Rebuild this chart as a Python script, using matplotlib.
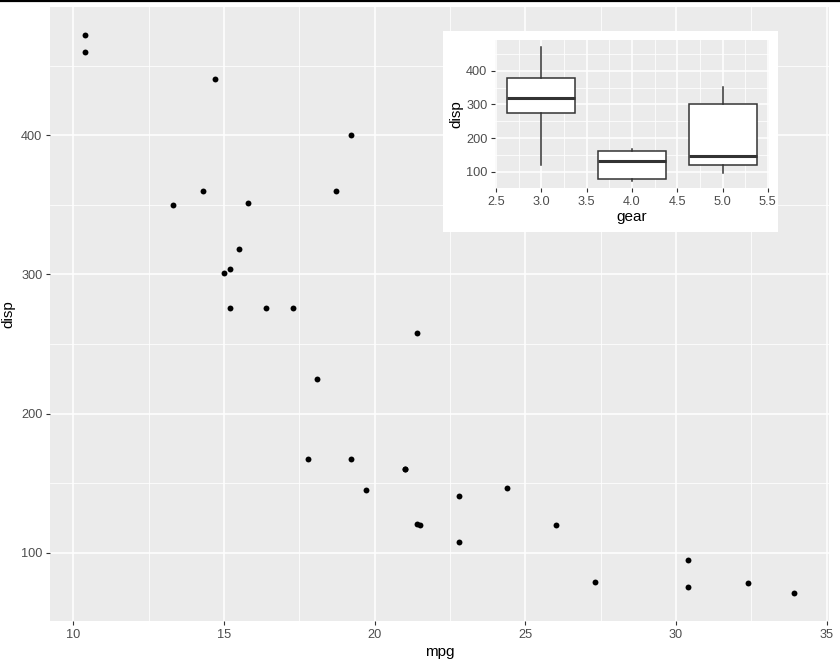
import numpy as np
import matplotlib
matplotlib.use("Agg")
from matplotlib import pyplot as plt
from matplotlib.ticker import MultipleLocator, FormatStrFormatter
from matplotlib.patches import Rectangle
from matplotlib.lines import Line2D

# mtcars: mpg, disp, gear
mpg = [21.0, 21.0, 22.8, 21.4, 18.7, 18.1, 14.3, 24.4, 22.8, 19.2, 17.8,
       16.4, 17.3, 15.2, 10.4, 10.4, 14.7, 32.4, 30.4, 33.9, 21.5, 15.5,
       15.2, 13.3, 19.2, 27.3, 26.0, 30.4, 15.8, 19.7, 15.0, 21.4]
disp = [160, 160, 108, 258, 360, 225, 360, 146.7, 140.8, 167.6, 167.6,
        275.8, 275.8, 275.8, 472, 460, 440, 78.7, 75.7, 71.1, 120.1, 318,
        304, 350, 400, 79, 120.3, 95.1, 351, 145, 301, 121]
gear = [4, 4, 4, 3, 3, 3, 3, 4, 4, 4, 4, 3, 3, 3, 3, 3, 3, 4, 4, 4, 3, 3,
        3, 3, 3, 4, 5, 5, 5, 5, 5, 4]

gear_levels = [3, 4, 5]

plt.rcParams['font.family'] = ['Liberation Sans', 'DejaVu Sans']

PANEL = '#EBEBEB'
TICKTXT = '#4D4D4D'
TICK = '#333333'


def style_gg(ax):
    ax.set_facecolor(PANEL)
    for s in ax.spines.values():
        s.set_visible(False)
    ax.grid(which='major', color='white', linewidth=1.1)
    ax.grid(which='minor', color='white', linewidth=0.55)
    ax.set_axisbelow(True)
    ax.tick_params(which='major', length=3, width=0.8, color=TICK,
                   labelcolor=TICKTXT, labelsize=9.2, pad=2.5)
    ax.tick_params(which='minor', length=0)


fig = plt.figure(figsize=(8.4, 6.65), dpi=100)
W, H = 840, 665


def box(x0, y0, x1, y1):
    # pixel box -> figure fraction rect
    return [x0 / W, 1 - y1 / H, (x1 - x0) / W, (y1 - y0) / H]


# top rule
fig.add_artist(Line2D([0, 1], [1 - 1 / H, 1 - 1 / H], color='black',
                      linewidth=1.6, transform=fig.transFigure))

ax = fig.add_axes(box(50, 7, 829, 621))
style_gg(ax)
ax.scatter(mpg, disp, s=18, color='black', zorder=3, linewidths=0)
ax.set_xlim(9.225, 35.075)
ax.set_ylim(51.05, 492.05)
ax.xaxis.set_major_locator(MultipleLocator(5))
ax.xaxis.set_minor_locator(MultipleLocator(2.5))
ax.yaxis.set_major_locator(MultipleLocator(100))
ax.yaxis.set_minor_locator(MultipleLocator(50))
ax.set_xlabel('mpg', fontsize=11, color='black', labelpad=3)
ax.set_ylabel('disp', fontsize=11, color='black', labelpad=4)

# inset background
fig.add_artist(Rectangle((443 / W, 1 - 232 / H), (778 - 443) / W,
                         (232 - 31) / H, transform=fig.transFigure,
                         facecolor='white', edgecolor='none', zorder=5))

ins = fig.add_axes(box(495, 40, 769, 188), zorder=6)
style_gg(ins)
groups = [[d for d, g in zip(disp, gear) if g == lv] for lv in gear_levels]
ins.boxplot(groups, positions=gear_levels, widths=0.75, showcaps=False,
            showfliers=False, patch_artist=True, manage_ticks=False,
            boxprops=dict(facecolor='white', edgecolor=TICK, linewidth=1.1),
            whiskerprops=dict(color=TICK, linewidth=1.1),
            medianprops=dict(color=TICK, linewidth=2.2), zorder=3)
ins.set_xlim(2.4875, 5.5125)
ins.set_ylim(51.05, 492.05)
ins.xaxis.set_major_locator(MultipleLocator(0.5))
ins.xaxis.set_minor_locator(MultipleLocator(0.25))
ins.yaxis.set_major_locator(MultipleLocator(100))
ins.yaxis.set_minor_locator(MultipleLocator(50))
ins.xaxis.set_major_formatter(FormatStrFormatter('%.1f'))
ins.set_xlabel('gear', fontsize=11, color='black', labelpad=2)
ins.set_ylabel('disp', fontsize=11, color='black', labelpad=2)

fig.savefig('out.png', dpi=100)
